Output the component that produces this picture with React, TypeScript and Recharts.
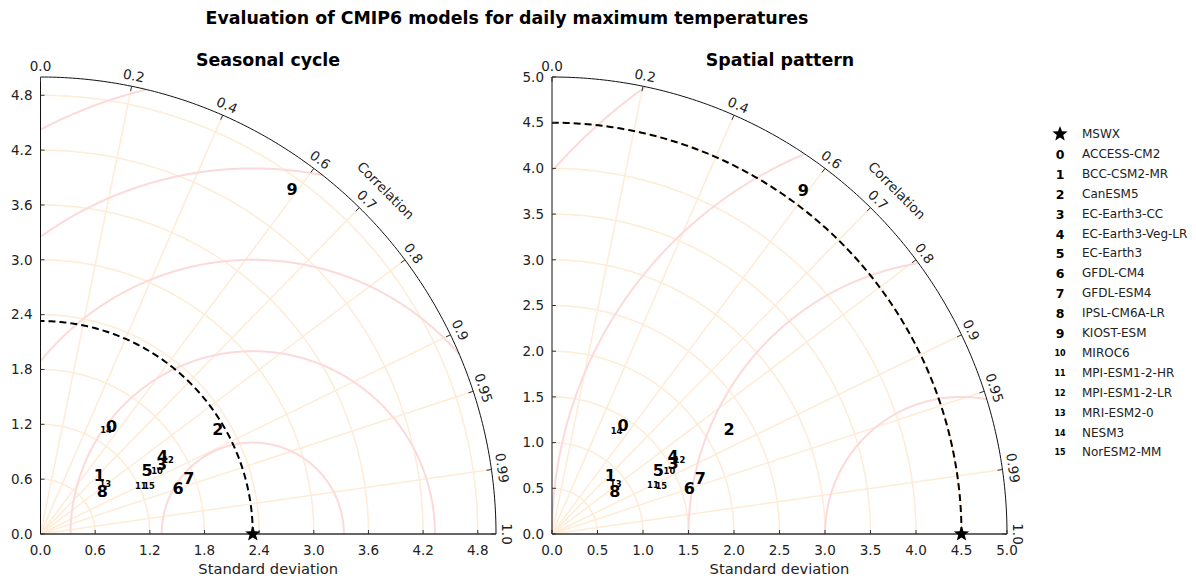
import React from "react"
import { ComposedChart, XAxis, YAxis, Line, Scatter, ReferenceDot } from "recharts"

const models = [
  "ACCESS-CM2", "BCC-CSM2-MR", "CanESM5", "EC-Earth3-CC", "EC-Earth3-Veg-LR", "EC-Earth3",
  "GFDL-CM4", "GFDL-ESM4", "IPSL-CM6A-LR", "KIOST-ESM", "MIROC6", "MPI-ESM1-2-HR",
  "MPI-ESM1-2-LR", "MRI-ESM2-0", "NESM3", "NorESM2-MM",
]

// seasonal cycle: standard deviation and correlation of each model
const seasonalStd = [1.415, 0.909, 2.255, 1.532, 1.587, 1.358, 1.591, 1.737, 0.821, 4.672, 1.454, 1.221, 1.617, 0.898, 1.348, 1.303]
const seasonalCorr = [0.551, 0.71, 0.863, 0.868, 0.844, 0.861, 0.949, 0.938, 0.828, 0.591, 0.88, 0.901, 0.866, 0.791, 0.534, 0.914]
const seasonalRef = 2.33

// spatial pattern
const spatialStd = [1.419, 0.902, 2.255, 1.537, 1.578, 1.358, 1.591, 1.737, 0.829, 4.664, 1.463, 1.234, 1.617, 0.89, 1.335, 1.312]
const spatialCorr = [0.55, 0.71, 0.863, 0.865, 0.843, 0.861, 0.949, 0.938, 0.832, 0.592, 0.882, 0.899, 0.866, 0.786, 0.532, 0.915]
const spatialRef = 4.5

const seasonalTicks = [0, 0.6, 1.2, 1.8, 2.4, 3.0, 3.6, 4.2, 4.8]
const spatialTicks = [0, 0.5, 1.0, 1.5, 2.0, 2.5, 3.0, 3.5, 4.0, 4.5, 5.0]
const seasonalRms = [1, 2, 3, 4, 5]
const spatialRms = [1.5, 3, 4.5, 6]

const corrTicks = [0, 0.2, 0.4, 0.6, 0.7, 0.8, 0.9, 0.95, 0.99, 1]
const corrGrid = [0.2, 0.4, 0.6, 0.7, 0.8, 0.9, 0.95, 0.99]
const MAX_STD = 5

const FONT = "'DejaVu Sans', sans-serif"
const ORANGE = "#feecd6"
const PINK = "#fcdada"

// quarter circle of radius r around the origin
const stdArc = (r: number) => {
  const pts = []
  for (let i = 0; i <= 180; i++) {
    const t = (Math.PI / 2) * (i / 180)
    pts.push({ x: r * Math.cos(t), y: r * Math.sin(t) })
  }
  return pts
}

// RMSD contour around the reference point, kept inside the quarter disc
const rmsArc = (c: number, r: number) => {
  const pts = []
  for (let i = 0; i <= 1500; i++) {
    const p = Math.PI * (i / 1500)
    const x = c + r * Math.cos(p)
    const y = r * Math.sin(p)
    if (x >= 0 && x * x + y * y <= MAX_STD * MAX_STD + 1e-9) pts.push({ x, y })
  }
  return pts
}

const starPath = (cx: number, cy: number, R: number, r: number) => {
  let d = ""
  for (let i = 0; i < 10; i++) {
    const rad = i % 2 === 0 ? R : r
    const a = -Math.PI / 2 + (i * Math.PI) / 5
    d += (i ? "L" : "M") + (cx + rad * Math.cos(a)).toFixed(2) + "," + (cy + rad * Math.sin(a)).toFixed(2)
  }
  return d + "Z"
}

const Marker = (props: any) => {
  const { cx, cy, payload } = props
  const big = payload.id < 10
  return (
    <text x={cx} y={cy} textAnchor="middle" dominantBaseline="central"
      fontFamily={FONT} fontWeight="bold" fontSize={big ? 16 : 8.4} fill="#000">
      {payload.id}
    </text>
  )
}

interface PanelProps {
  std: number[]
  corr: number[]
  refStd: number
  ticks: number[]
  rms: number[]
  left: number
  marginLeft: number
  marginRight: number
}

function TaylorPanel({ std, corr, refStd, ticks, rms, left, marginLeft, marginRight }: PanelProps) {
  const points = std.map((s, i) => ({ x: s * corr[i], y: s * Math.sqrt(1 - corr[i] * corr[i]), id: i }))
  const tickStyle = { fill: "#222", fontSize: 13.5, fontFamily: FONT }
  const lineProps = { dataKey: "y", dot: false, activeDot: false, isAnimationActive: false, legendType: "none" as const }

  return (
    <div style={{ position: "absolute", left, top: 0 }}>
      <ComposedChart width={530} height={582} margin={{ top: 77, right: marginRight, bottom: 18, left: marginLeft }}>
        <XAxis type="number" dataKey="x" domain={[0, MAX_STD]} ticks={ticks} interval={0}
          tickFormatter={(v: number) => v.toFixed(1)} tick={tickStyle} tickSize={-4} tickMargin={15}
          axisLine={{ stroke: "#333", strokeWidth: 1.3 }} tickLine={{ stroke: "#333" }} height={30}
          label={{ value: "Standard deviation", position: "bottom", offset: 0, fill: "#222", fontSize: 14.7, fontFamily: FONT }} />
        <YAxis type="number" dataKey="y" domain={[0, MAX_STD]} ticks={ticks} interval={0} width={30}
          tickFormatter={(v: number) => v.toFixed(1)} tick={tickStyle} tickSize={-4} tickMargin={12}
          axisLine={{ stroke: "#111" }} tickLine={{ stroke: "#333" }} />

        {ticks.filter((t) => t > 0 && t < MAX_STD).map((t) => (
          <Line key={"s" + t} data={stdArc(t)} stroke={ORANGE} strokeWidth={1.5} {...lineProps} />
        ))}
        {corrGrid.map((c) => (
          <Line key={"c" + c} data={[{ x: 0, y: 0 }, { x: MAX_STD * c, y: MAX_STD * Math.sqrt(1 - c * c) }]}
            stroke={ORANGE} strokeWidth={1.5} {...lineProps} />
        ))}
        {rms.map((r) => (
          <Line key={"r" + r} data={rmsArc(refStd, r)} stroke={PINK} strokeWidth={2} {...lineProps} />
        ))}
        <Line data={stdArc(MAX_STD)} stroke="#111" strokeWidth={1} {...lineProps} />
        <Line data={stdArc(refStd)} stroke="#000" strokeWidth={2} strokeDasharray="7 4" {...lineProps} />

        {corrTicks.map((c) => {
          const th = Math.acos(c)
          return (
            <ReferenceDot key={"l" + c} x={MAX_STD * c} y={MAX_STD * Math.sin(th)} r={0} ifOverflow="visible"
              shape={(p: any) => {
                const lx = p.cx + 11 * Math.cos(th)
                const ly = p.cy - 11 * Math.sin(th)
                const rot = 90 - (th * 180) / Math.PI
                return (
                  <g>
                    <line x1={p.cx} y1={p.cy} x2={p.cx - 5 * Math.cos(th)} y2={p.cy + 5 * Math.sin(th)} stroke="#333" />
                    <text x={lx} y={ly} transform={`rotate(${rot} ${lx} ${ly})`} textAnchor="middle"
                      dominantBaseline="central" fontFamily={FONT} fontSize={13.5} fill="#222">
                      {c.toFixed(c === 0.95 || c === 0.99 ? 2 : 1)}
                    </text>
                  </g>
                )
              }} />
          )
        })}
        <ReferenceDot x={MAX_STD * 0.71} y={MAX_STD * Math.sqrt(1 - 0.71 * 0.71)} r={0} ifOverflow="visible"
          shape={(p: any) => {
            const th = Math.acos(0.71)
            const lx = p.cx + 31 * Math.cos(th)
            const ly = p.cy - 31 * Math.sin(th)
            const rot = 90 - (th * 180) / Math.PI
            return (
              <text x={lx} y={ly} transform={`rotate(${rot} ${lx} ${ly})`} textAnchor="middle"
                dominantBaseline="central" fontFamily={FONT} fontSize={13.5} fill="#222">
                Correlation
              </text>
            )
          }} />

        <Scatter data={points} shape={Marker} isAnimationActive={false} legendType="none" />
        <Scatter data={[{ x: refStd, y: 0 }]} isAnimationActive={false} legendType="none"
          shape={(p: any) => <path d={starPath(p.cx, p.cy, 8, 3.4)} fill="#000" />} />
      </ComposedChart>
    </div>
  )
}

export default function App() {
  return (
    <div style={{ position: "relative", width: 1196, height: 582, fontFamily: FONT, background: "#fff" }}>
      <style>{"body{margin:0}"}</style>
      <div style={{ position: "absolute", left: 0, top: 8, width: 1014, textAlign: "center", fontWeight: "bold", fontSize: 17.4, lineHeight: "20px", color: "#000" }}>
        Evaluation of CMIP6 models for daily maximum temperatures
      </div>
      <div style={{ position: "absolute", left: 68, top: 50, width: 400, textAlign: "center", fontWeight: "bold", fontSize: 17.4, lineHeight: "20px" }}>
        Seasonal cycle
      </div>
      <div style={{ position: "absolute", left: 580, top: 50, width: 400, textAlign: "center", fontWeight: "bold", fontSize: 17.4, lineHeight: "20px" }}>
        Spatial pattern
      </div>

      <TaylorPanel std={seasonalStd} corr={seasonalCorr} refStd={seasonalRef} ticks={seasonalTicks}
        rms={seasonalRms} left={0} marginLeft={10.5} marginRight={34} />
      <TaylorPanel std={spatialStd} corr={spatialCorr} refStd={spatialRef} ticks={spatialTicks}
        rms={spatialRms} left={510} marginLeft={12} marginRight={33} />

      <div style={{ position: "absolute", left: 1048, top: 124 }}>
        {["MSWX", ...models].map((name, i) => (
          <div key={name} style={{ position: "absolute", top: 19.9 * i, left: 0, height: 20, width: 140 }}>
            <svg width={24} height={20} style={{ position: "absolute", left: 0, top: 0 }}>
              {i === 0 ? (
                <path d={starPath(12, 10, 8, 3.4)} fill="#000" />
              ) : (
                <text x={12} y={10} textAnchor="middle" dominantBaseline="central" fontFamily={FONT}
                  fontWeight="bold" fontSize={i - 1 < 10 ? 12.5 : 8}>{i - 1}</text>
              )}
            </svg>
            <span style={{ position: "absolute", left: 34, top: 0, lineHeight: "20px", fontSize: 12, color: "#222", whiteSpace: "nowrap" }}>
              {name}
            </span>
          </div>
        ))}
      </div>
    </div>
  )
}
